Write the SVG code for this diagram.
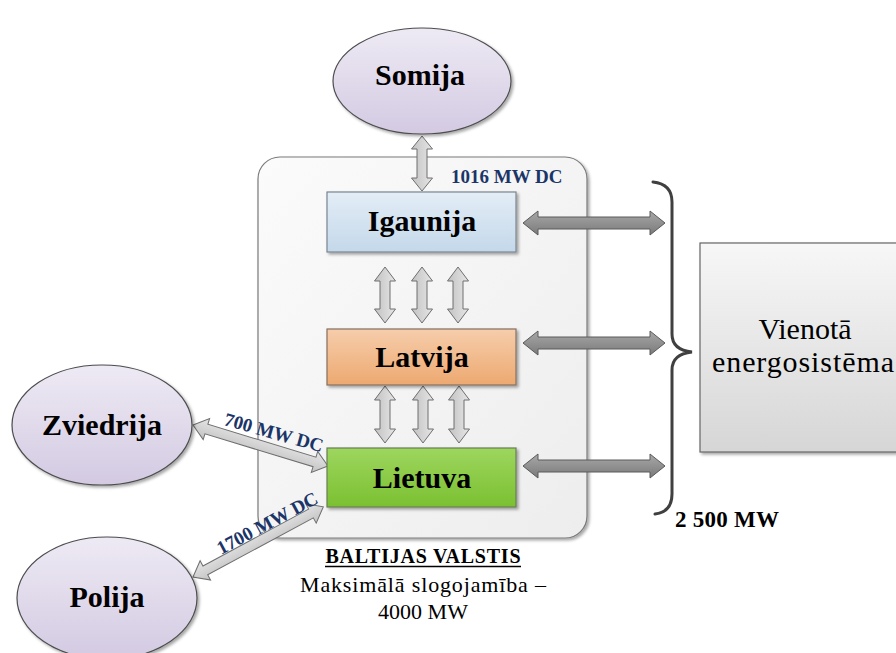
<svg xmlns="http://www.w3.org/2000/svg" width="896" height="653" viewBox="0 0 896 653">
<style>
text{font-family:"Liberation Serif","DejaVu Serif",serif;fill:#000}
.nm{font-weight:bold;font-size:30px;text-anchor:middle}
.dc{font-weight:bold;font-size:19px;fill:#1b3568}
.la{stroke:#6e6e6e;stroke-width:1;fill:url(#gLa)}
.da{stroke:#5a5a5a;stroke-width:1;fill:url(#gDa)}
.ell{fill:url(#gEl);stroke:#4d4d4d;stroke-width:1.2}
</style>
<defs>
<linearGradient id="gCont" x1="0" y1="0" x2="1" y2="1"><stop offset="0" stop-color="#fbfbfb"/><stop offset="1" stop-color="#ededed"/></linearGradient>
<linearGradient id="gIg" x1="0" y1="0" x2="0" y2="1"><stop offset="0" stop-color="#e3edf6"/><stop offset="1" stop-color="#c4d8ea"/></linearGradient>
<linearGradient id="gLv" x1="0" y1="0" x2="0" y2="1"><stop offset="0" stop-color="#f6cdac"/><stop offset="1" stop-color="#eda970"/></linearGradient>
<linearGradient id="gLt" x1="0" y1="0" x2="0" y2="1"><stop offset="0" stop-color="#9dd65e"/><stop offset="1" stop-color="#7bc031"/></linearGradient>
<linearGradient id="gEl" x1="0" y1="0" x2="0" y2="1"><stop offset="0" stop-color="#eeeaf4"/><stop offset="1" stop-color="#d3cae2"/></linearGradient>
<linearGradient id="gVe" x1="0" y1="0" x2="0" y2="1"><stop offset="0" stop-color="#f7f7f7"/><stop offset="1" stop-color="#d6d6d6"/></linearGradient>
<linearGradient id="gLa" x1="0" y1="0" x2="0" y2="1"><stop offset="0" stop-color="#e6e6e6"/><stop offset="1" stop-color="#c2c2c2"/></linearGradient>
<linearGradient id="gDa" x1="0" y1="0" x2="0" y2="1"><stop offset="0" stop-color="#a8a8a8"/><stop offset="1" stop-color="#7a7a7a"/></linearGradient>
<filter id="sh" x="-10%" y="-10%" width="130%" height="130%"><feDropShadow dx="2" dy="2" stdDeviation="1.8" flood-color="#000" flood-opacity="0.35"/></filter>
</defs>

<g id="baltic-container">
<rect x="258" y="157" width="329" height="381" rx="22" fill="url(#gCont)" stroke="#7a7a7a" stroke-width="1.2" filter="url(#sh)"/>
</g>

<g id="vienota">
<rect x="700" y="243" width="212" height="209" fill="url(#gVe)" stroke="#666" stroke-width="1.2" filter="url(#sh)"/>
<text x="805" y="339" font-size="30" text-anchor="middle">Vienotā</text>
<text x="712" y="372" font-size="30" textLength="182" lengthAdjust="spacing">energosistēma</text>
</g>

<g id="connectors">
<!-- Somija - Igaunija -->
<path class="la" transform="translate(422,136) rotate(90)" d="M0,0 L13,-10.5 L13,-5 L42,-5 L42,-10.5 L55,0 L42,10.5 L42,5 L13,5 L13,10.5 Z"/>
<!-- Igaunija - Latvija -->
<path class="la" transform="translate(385,267) rotate(90)" d="M0,0 L14,-10.5 L14,-5 L42,-5 L42,-10.5 L56,0 L42,10.5 L42,5 L14,5 L14,10.5 Z"/>
<path class="la" transform="translate(422,267) rotate(90)" d="M0,0 L14,-10.5 L14,-5 L42,-5 L42,-10.5 L56,0 L42,10.5 L42,5 L14,5 L14,10.5 Z"/>
<path class="la" transform="translate(458,267) rotate(90)" d="M0,0 L14,-10.5 L14,-5 L42,-5 L42,-10.5 L56,0 L42,10.5 L42,5 L14,5 L14,10.5 Z"/>
<!-- Latvija - Lietuva -->
<path class="la" transform="translate(385,386) rotate(90)" d="M0,0 L14,-10.5 L14,-5 L43,-5 L43,-10.5 L57,0 L43,10.5 L43,5 L14,5 L14,10.5 Z"/>
<path class="la" transform="translate(423,386) rotate(90)" d="M0,0 L14,-10.5 L14,-5 L43,-5 L43,-10.5 L57,0 L43,10.5 L43,5 L14,5 L14,10.5 Z"/>
<path class="la" transform="translate(459,386) rotate(90)" d="M0,0 L14,-10.5 L14,-5 L43,-5 L43,-10.5 L57,0 L43,10.5 L43,5 L14,5 L14,10.5 Z"/>
<!-- Horizontal to brace -->
<path class="da" transform="translate(523,223)" d="M0,0 L15,-12 L15,-6 L127,-6 L127,-12 L142,0 L127,12 L127,6 L15,6 L15,12 Z"/>
<path class="da" transform="translate(523,343)" d="M0,0 L15,-12 L15,-6 L127,-6 L127,-12 L142,0 L127,12 L127,6 L15,6 L15,12 Z"/>
<path class="da" transform="translate(523,466)" d="M0,0 L15,-12 L15,-6 L127,-6 L127,-12 L142,0 L127,12 L127,6 L15,6 L15,12 Z"/>
<!-- Zviedrija - Lietuva -->
<path class="la" transform="translate(193,425) rotate(16.9)" d="M0,0 L14,-11 L14,-5 L127,-5 L127,-11 L141,0 L127,11 L127,5 L14,5 L14,11 Z"/>
<!-- Polija - Lietuva -->
<path class="la" transform="translate(193,577) rotate(-28.3)" d="M0,0 L14,-11 L14,-5 L134,-5 L134,-11 L148,0 L134,11 L134,5 L14,5 L14,11 Z"/>
<!-- brace -->
<path d="M653,182 Q672,184 672,202 L672,334 Q672,350 692,352 Q672,354 672,370 L672,494 Q672,512 655,514" fill="none" stroke="#404040" stroke-width="3" stroke-linecap="round"/>
<text class="dc" x="451" y="183" font-size="20">1016 MW DC</text>
<text class="dc" transform="translate(223,425) rotate(15.5)">700 MW DC</text>
<text class="dc" transform="translate(221,555) rotate(-28)">1700 MW DC</text>
<text x="675" y="527" font-size="23" font-weight="bold" textLength="104" lengthAdjust="spacing">2 500 MW</text>
</g>

<g id="somija">
<ellipse class="ell" cx="422" cy="81" rx="89" ry="53" filter="url(#sh)"/>
<text class="nm" x="420" y="85">Somija</text>
</g>

<g id="igaunija">
<rect x="327" y="192" width="189" height="60" fill="url(#gIg)" stroke="#7a8591" stroke-width="1.2" filter="url(#sh)"/>
<text class="nm" x="422" y="231">Igaunija</text>
</g>

<g id="latvija">
<rect x="327" y="329" width="189" height="56" fill="url(#gLv)" stroke="#85705f" stroke-width="1.2" filter="url(#sh)"/>
<text class="nm" x="422" y="367">Latvija</text>
</g>

<g id="lietuva">
<rect x="327" y="448" width="189" height="59" fill="url(#gLt)" stroke="#6a7e55" stroke-width="1.2" filter="url(#sh)"/>
<text class="nm" x="422" y="488">Lietuva</text>
</g>

<g id="zviedrija">
<ellipse class="ell" cx="102" cy="425" rx="90" ry="60" filter="url(#sh)"/>
<text class="nm" x="102" y="435">Zviedrija</text>
</g>

<g id="polija">
<ellipse class="ell" cx="107" cy="598" rx="90" ry="61" filter="url(#sh)"/>
<text class="nm" x="107" y="607">Polija</text>
</g>

<g id="baltic-caption">
<text x="423" y="563" font-size="20" font-weight="bold" text-anchor="middle" textLength="195" lengthAdjust="spacing">BALTIJAS VALSTIS</text>
<line x1="325" y1="566.5" x2="521" y2="566.5" stroke="#000" stroke-width="1.5"/>
<text x="423" y="592" font-size="22" text-anchor="middle" textLength="246" lengthAdjust="spacing">Maksimālā slogojamība –</text>
<text x="423" y="619" font-size="22" text-anchor="middle">4000 MW</text>
</g>
</svg>
